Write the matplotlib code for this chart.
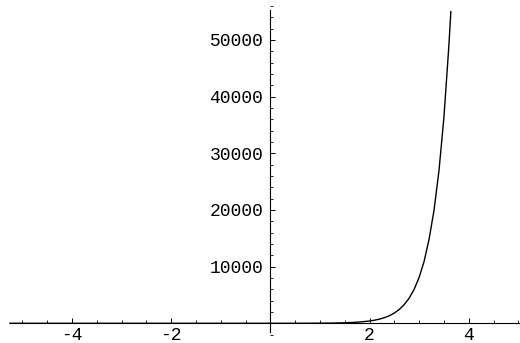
import matplotlib
matplotlib.use("Agg")
import matplotlib.pyplot as plt
from matplotlib.ticker import MultipleLocator, FixedLocator

# values
xs = [-5.25, -2, -1, 0, 0.5, 1, 1.25, 1.5, 1.75, 2, 2.1, 2.2, 2.3, 2.4, 2.5, 2.6,
      2.7, 2.8, 2.9, 3.0, 3.1, 3.2, 3.3, 3.4, 3.5, 3.6, 3.64]
ys = [0, 0, 0, 1, 4, 20, 42, 90, 190, 400, 545, 735, 990, 1340, 1810, 2440,
      3300, 4450, 6000, 8100, 10900, 14800, 19900, 26900, 36300, 49000, 55000]
x_ticks = [-4, -2, 2, 4]
y_ticks = [10000, 20000, 30000, 40000, 50000]

fig = plt.figure(figsize=(5.2, 3.43), dpi=100)
ax = fig.add_axes([0, 0, 1, 1])
ax.set_xlim(-5.45, 5.034)
ax.set_ylim(-3476, 57050)
ax.plot(xs, ys, color="black", lw=1.0, solid_joinstyle="round")

for s in ["top", "right"]:
    ax.spines[s].set_visible(False)
ax.spines["bottom"].set_position(("data", 0))
ax.spines["left"].set_position(("data", 0))
ax.spines["bottom"].set_bounds(-5.25, 5.034)
ax.spines["left"].set_bounds(-1480, 55300)
for s in ["bottom", "left"]:
    ax.spines[s].set_linewidth(0.8)
    ax.spines[s].set_color("black")

ax.xaxis.set_major_locator(FixedLocator(x_ticks))
ax.xaxis.set_minor_locator(MultipleLocator(0.5))
ax.yaxis.set_major_locator(FixedLocator(y_ticks))
ax.yaxis.set_minor_locator(MultipleLocator(2000))

font = dict(family="Liberation Mono", size=13)
ax.set_xticklabels([str(v) for v in x_ticks], **font)
ax.set_yticklabels([str(v) for v in y_ticks], **font)
ax.tick_params(axis="x", which="major", direction="in", length=3.5, width=0.7, pad=2.5, colors="black")
ax.tick_params(axis="x", which="minor", direction="in", length=2.2, width=0.6)
ax.tick_params(axis="y", which="major", direction="in", length=3.5, width=0.7, pad=5, colors="black")
ax.tick_params(axis="y", which="minor", direction="in", length=2.2, width=0.6)

fig.savefig("out.png", dpi=100)
